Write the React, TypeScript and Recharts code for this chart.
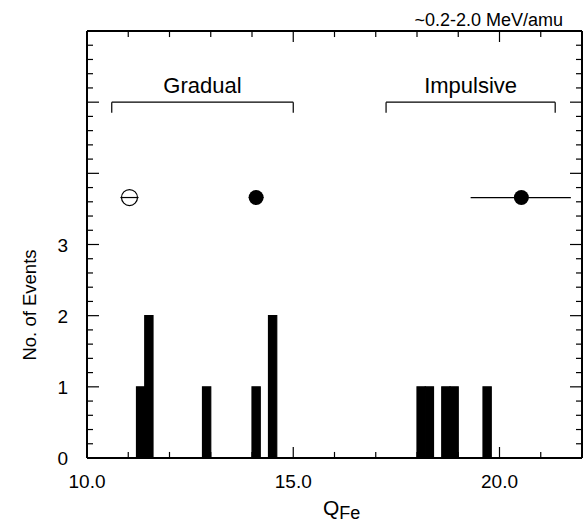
import React from 'react'
import {
  ComposedChart,
  XAxis,
  YAxis,
  ReferenceArea,
  ReferenceLine,
  Scatter,
  ErrorBar,
  Customized,
} from 'recharts'

// histogram of Q_Fe, bins of width 0.2
const binStarts = [11.2, 11.4, 12.8, 14.0, 14.4, 18.0, 18.2, 18.6, 18.8, 19.6]
const binCounts = [1, 2, 1, 1, 2, 1, 1, 1, 1, 1]
const BIN_WIDTH = 0.2

// mean charge states with spread
const pointQ = [11.03, 14.1, 20.53]
const pointLevel = [3.66, 3.66, 3.66]
const pointErrLow = [0.22, 0.18, 1.23]
const pointErrHigh = [0.22, 0.18, 1.2]
const pointOpen = [true, false, false]

// event class brackets
const groupNames = ['Gradual', 'Impulsive']
const groupFrom = [10.6, 17.25]
const groupTo = [15.0, 21.35]
const BRACKET_Y = 5
const BRACKET_DROP = 0.15

const X_MIN = 10
const X_MAX = 22
const Y_MIN = 0
const Y_MAX = 6
const xTicks = [10, 11, 12, 13, 14, 15, 16, 17, 18, 19, 20, 21, 22]
const xLabelTicks = [10, 15, 20]
const yTicks = [
  0, 0.2, 0.4, 0.6, 0.8, 1, 1.2, 1.4, 1.6, 1.8, 2, 2.2, 2.4, 2.6, 2.8, 3, 3.2, 3.4, 3.6, 3.8, 4,
  4.2, 4.4, 4.6, 4.8, 5, 5.2, 5.4, 5.6, 5.8, 6,
]
const yLabelTicks = [0, 1, 2, 3]

const points = pointQ.map((q, i) => ({
  q,
  n: pointLevel[i],
  err: [pointErrLow[i], pointErrHigh[i]],
  open: pointOpen[i],
}))

const FONT = '"Liberation Sans", Arial, sans-serif'
const isMajor = (v: number) => Math.abs(v - Math.round(v)) < 1e-6
// tick lengths of the x axes, in y units (plot is ~71 px per event)
const X_MAJOR_LEN = 0.155
const X_MINOR_LEN = 0.085

function LeftTick(props: any) {
  const { x, y, payload } = props
  const v = payload.value
  const major = isMajor(v)
  const labelled = yLabelTicks.some((t) => Math.abs(t - v) < 1e-6)
  return (
    <g>
      <line x1={x} x2={x + (major ? 12 : 6)} y1={y} y2={y} stroke="#000" strokeWidth={1.2} />
      {labelled && (
        <text x={x - 19} y={y + 7} textAnchor="end" fontSize={19} fill="#000" fontFamily={FONT}>
          {Math.round(v)}
        </text>
      )}
    </g>
  )
}

function RightTick(props: any) {
  const { x, y, payload } = props
  const major = isMajor(payload.value)
  return <line x1={x} x2={x - (major ? 12 : 6)} y1={y} y2={y} stroke="#000" strokeWidth={1.2} />
}

function PointShape(props: any) {
  const { cx, cy, payload } = props
  if (payload.open) {
    return <circle cx={cx} cy={cy} r={8} fill="none" stroke="#000" strokeWidth={1.2} />
  }
  return <circle cx={cx} cy={cy} r={7.5} fill="#000" />
}

function Titles() {
  return (
    <g fontFamily={FONT} fill="#000">
      <text x={563} y={26} textAnchor="end" fontSize={18}>
        ~0.2-2.0 MeV/amu
      </text>
      <text x={36} y={305} textAnchor="middle" fontSize={18.5} transform="rotate(-90 36 305)">
        No. of Events
      </text>
      <text x={323} y={515} fontSize={21}>
        Q
        <tspan fontSize={18} dy={4}>
          Fe
        </tspan>
      </text>
    </g>
  )
}

const axisLine = { stroke: '#000', strokeWidth: 2 }

export default function App() {
  return (
    <div style={{ position: 'absolute', left: 0, top: 0, background: '#fff' }}>
      <ComposedChart width={585} height={523} margin={{ top: 30, right: 2, bottom: 64, left: 86 }}>
        <XAxis
          xAxisId="bottom"
          type="number"
          orientation="bottom"
          domain={[X_MIN, X_MAX]}
          allowDataOverflow
          height={1}
          tick={false}
          tickLine={false}
          axisLine={axisLine}
        />
        <XAxis
          xAxisId="top"
          dataKey="q"
          type="number"
          orientation="top"
          domain={[X_MIN, X_MAX]}
          allowDataOverflow
          height={1}
          tick={false}
          tickLine={false}
          axisLine={axisLine}
        />
        <YAxis
          yAxisId="left"
          dataKey="n"
          type="number"
          orientation="left"
          domain={[Y_MIN, Y_MAX]}
          allowDataOverflow
          ticks={yTicks}
          interval={0}
          width={1}
          tickSize={0}
          tickMargin={0}
          tickLine={false}
          axisLine={axisLine}
          tick={LeftTick}
        />
        <YAxis
          yAxisId="right"
          type="number"
          orientation="right"
          domain={[Y_MIN, Y_MAX]}
          allowDataOverflow
          ticks={yTicks}
          interval={0}
          width={1}
          tickSize={0}
          tickMargin={0}
          tickLine={false}
          axisLine={axisLine}
          tick={RightTick}
        />

        {/* inward x ticks, bottom (with labels) and top */}
        {xTicks.map((v) => {
          const major = xLabelTicks.includes(v)
          return (
            <ReferenceLine
              key={'xb' + v}
              xAxisId="top"
              yAxisId="left"
              segment={[
                { x: v, y: Y_MIN },
                { x: v, y: Y_MIN + (major ? X_MAJOR_LEN : X_MINOR_LEN) },
              ]}
              stroke="#000"
              strokeWidth={1.2}
              ifOverflow="visible"
              label={
                major
                  ? { value: v.toFixed(1), position: 'bottom', offset: 17, fontSize: 19, fill: '#000', fontFamily: FONT }
                  : undefined
              }
            />
          )
        })}
        {xTicks.map((v) => (
          <ReferenceLine
            key={'xt' + v}
            xAxisId="top"
            yAxisId="left"
            segment={[
              { x: v, y: Y_MAX },
              { x: v, y: Y_MAX - (xLabelTicks.includes(v) ? X_MAJOR_LEN : X_MINOR_LEN) },
            ]}
            stroke="#000"
            strokeWidth={1.2}
            ifOverflow="visible"
          />
        ))}

        {binStarts.map((start, i) => (
          <ReferenceArea
            key={start}
            xAxisId="top"
            yAxisId="left"
            x1={start}
            x2={start + BIN_WIDTH}
            y1={0}
            y2={binCounts[i]}
            fill="#000"
            fillOpacity={1}
            stroke="#000"
            strokeOpacity={1}
            strokeWidth={1.2}
            ifOverflow="visible"
          />
        ))}

        {groupNames.map((name, i) => (
          <ReferenceLine
            key={name}
            xAxisId="top"
            yAxisId="left"
            segment={[
              { x: groupFrom[i], y: BRACKET_Y },
              { x: groupTo[i], y: BRACKET_Y },
            ]}
            stroke="#000"
            strokeWidth={1.2}
            ifOverflow="visible"
            label={{ value: name, position: 'top', offset: 9, fontSize: 22, fill: '#000', fontFamily: FONT }}
          />
        ))}
        {groupNames.map((name, i) => (
          <ReferenceLine
            key={name + '-l'}
            xAxisId="top"
            yAxisId="left"
            segment={[
              { x: groupFrom[i], y: BRACKET_Y },
              { x: groupFrom[i], y: BRACKET_Y - BRACKET_DROP },
            ]}
            stroke="#000"
            strokeWidth={1.2}
            ifOverflow="visible"
          />
        ))}
        {groupNames.map((name, i) => (
          <ReferenceLine
            key={name + '-r'}
            xAxisId="top"
            yAxisId="left"
            segment={[
              { x: groupTo[i], y: BRACKET_Y },
              { x: groupTo[i], y: BRACKET_Y - BRACKET_DROP },
            ]}
            stroke="#000"
            strokeWidth={1.2}
            ifOverflow="visible"
          />
        ))}

        <Scatter
          xAxisId="top"
          yAxisId="left"
          data={points}
          dataKey="n"
          shape={PointShape}
          isAnimationActive={false}
        >
          <ErrorBar dataKey="err" direction="x" width={0} stroke="#000" strokeWidth={1.2} />
        </Scatter>

        <Customized component={Titles} />
      </ComposedChart>
    </div>
  )
}
